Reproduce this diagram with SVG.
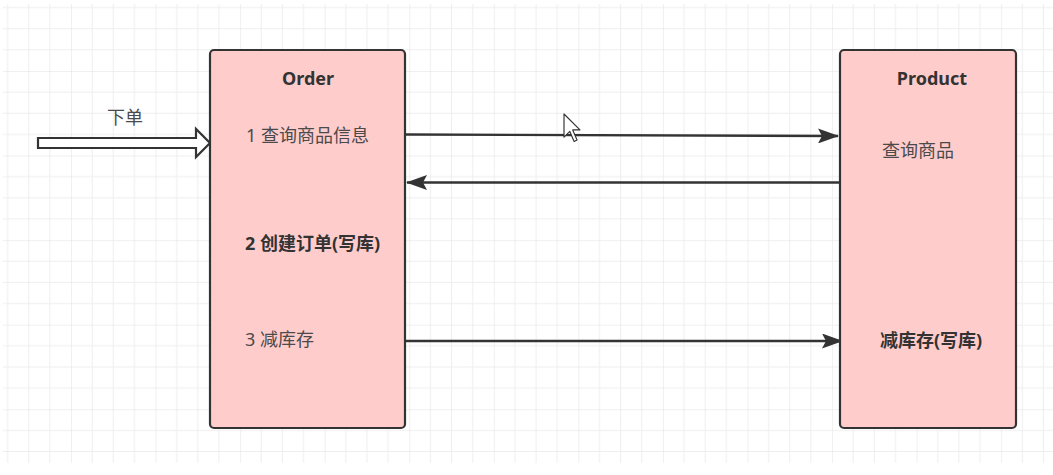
<svg xmlns="http://www.w3.org/2000/svg" width="1053" height="475" viewBox="0 0 1053 475">
  <defs>
    <pattern id="grid" patternUnits="userSpaceOnUse" x="71" y="71" width="84.56" height="84.56">
      <path d="M21.14 0V84.56M42.28 0V84.56M63.42 0V84.56M0 21.14H84.56M0 42.28H84.56M0 63.42H84.56" stroke="#eeeeee" stroke-width="1" fill="none"/>
      <path d="M0 0V84.56M0 0H84.56" stroke="#e2e2e2" stroke-width="1" fill="none"/>
    </pattern>
    <marker id="arr" viewBox="0 0 21 15" refX="20" refY="7.5" markerWidth="21" markerHeight="15" markerUnits="userSpaceOnUse" orient="auto">
      <path d="M0 0L21 7.5L0 15L4 7.5Z" fill="#333333"/>
    </marker>
    <style>
      .box { fill: #ffcccc; stroke: #333333; stroke-width: 2.2; }
      .t { font-family: "Noto Sans", "Noto Sans CJK SC", sans-serif; font-size: 18px; fill: #4a4a4a; }
      .b { font-weight: bold; fill: #333333; }
      .c { stroke: #333333; stroke-width: 2.4; fill: none; }
    </style>
  </defs>
  <rect width="1053" height="475" fill="#ffffff"/>
  <rect x="3" y="4" width="1050" height="459" fill="url(#grid)"/>

  <g id="connectors">
    <polygon points="38,138 196,138 196,129 210,143 196,157 196,148 38,148" fill="#ffffff" stroke="#333333" stroke-width="2.2" stroke-linejoin="miter"/>
    <line class="c" x1="405" y1="134.5" x2="838" y2="136" marker-end="url(#arr)"/>
    <line class="c" x1="840" y1="182.5" x2="407" y2="182.5" marker-end="url(#arr)"/>
    <line class="c" x1="405" y1="341" x2="842" y2="341" marker-end="url(#arr)"/>
  </g>

  <g id="label-xiadan">
    <text class="t" x="125" y="124" text-anchor="middle">下单</text>
  </g>

  <g id="order">
    <rect class="box" x="210" y="50" width="195" height="378" rx="4"/>
    <text class="t b" x="308" y="85" text-anchor="middle">Order</text>
    <text class="t" x="246" y="142">1 查询商品信息</text>
    <text class="t b" x="245" y="250">2 创建订单(写库)</text>
    <text class="t" x="245" y="346">3 减库存</text>
  </g>

  <g id="product">
    <rect class="box" x="840" y="50" width="176" height="378" rx="4"/>
    <text class="t b" x="932" y="85" text-anchor="middle">Product</text>
    <text class="t" x="882" y="157">查询商品</text>
    <text class="t b" x="931" y="347" text-anchor="middle">减库存(写库)</text>
  </g>

  <g id="cursor" transform="translate(564,114) scale(1.45)">
    <polygon points="0,0 0,16 4,12 7,19 9,18 6,11 11,11" fill="#ffffff" stroke="#333333" stroke-width="0.8" stroke-linejoin="round"/>
  </g>
</svg>
